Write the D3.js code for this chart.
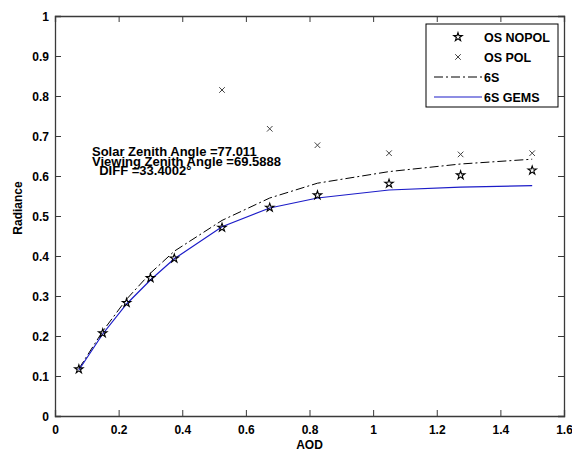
<!DOCTYPE html>
<html>
<head>
<meta charset="utf-8">
<script src="https://cdn.jsdelivr.net/npm/d3@7"></script>
<style>
  body { margin: 0; background: #fff; }
  svg { font-family: "Liberation Sans", Arial, sans-serif; font-weight: bold; }
</style>
</head>
<body>
<svg width="572" height="451"></svg>
<script>
// values
const aod     = [0.075, 0.15, 0.225, 0.3, 0.375, 0.525, 0.675, 0.825, 1.05, 1.275, 1.5];
const osNopol = [0.117, 0.207, 0.283, 0.345, 0.394, 0.471, 0.521, 0.552, 0.581, 0.602, 0.614];
const sixS    = [0.118, 0.212, 0.292, 0.357, 0.412, 0.489, 0.545, 0.582, 0.611, 0.630, 0.642];
const sixSGems = [0.115, 0.205, 0.280, 0.340, 0.393, 0.473, 0.520, 0.545, 0.565, 0.572, 0.576];
const polAod  = [0.525, 0.675, 0.825, 1.05, 1.275, 1.5];
const osPol   = [0.815, 0.718, 0.677, 0.657, 0.654, 0.657];
const xTicks  = [0, 0.2, 0.4, 0.6, 0.8, 1, 1.2, 1.4, 1.6];
const yTicks  = [0, 0.1, 0.2, 0.3, 0.4, 0.5, 0.6, 0.7, 0.8, 0.9, 1];
const notes   = ["Solar Zenith Angle =77.011", "Viewing Zenith Angle =69.5888", "  DIFF =33.4002\u00b0"];

const svg = d3.select("svg"),
      margin = {top: 16, right: 8, bottom: 35, left: 55},
      width = +svg.attr("width") - margin.left - margin.right,
      height = +svg.attr("height") - margin.top - margin.bottom;

const g = svg.append("g")
    .attr("transform", `translate(${margin.left},${margin.top})`);

const x = d3.scaleLinear().domain([0, 1.6]).range([0, width]);
const y = d3.scaleLinear().domain([0, 1]).range([height, 0]);

const fmt = d => d3.format("~g")(d);
const axisColor = "#3a3a3a";

// axes with inward ticks on all four sides
const axBottom = g.append("g").attr("transform", `translate(0,${height})`)
    .call(d3.axisBottom(x).tickValues(xTicks).tickSize(-6).tickPadding(9).tickFormat(fmt));
const axLeft = g.append("g")
    .call(d3.axisLeft(y).tickValues(yTicks).tickSize(-6).tickPadding(6).tickFormat(fmt));
const axTop = g.append("g")
    .call(d3.axisTop(x).tickValues(xTicks).tickSize(-6).tickFormat(""));
const axRight = g.append("g").attr("transform", `translate(${width},0)`)
    .call(d3.axisRight(y).tickValues(yTicks).tickSize(-6).tickFormat(""));

[axBottom, axLeft, axTop, axRight].forEach(a => {
    a.selectAll("path").attr("stroke", axisColor).attr("stroke-width", 1.3);
    a.selectAll("line").attr("stroke", axisColor);
    a.selectAll("text").attr("fill", "#000").style("font-size", "12px")
        .style("font-family", "'Liberation Sans', Arial, sans-serif").style("font-weight", "bold");
});
axLeft.selectAll("text").attr("dy", "0.35em");

// axis labels
svg.append("text")
    .attr("x", margin.left + width / 2)
    .attr("y", 449)
    .attr("text-anchor", "middle")
    .style("font-size", "12px")
    .text("AOD");

svg.append("text")
    .attr("transform", "translate(22,208) rotate(-90)")
    .attr("text-anchor", "middle")
    .style("font-size", "12px")
    .text("Radiance");

// lines
const line = d3.line()
    .x(d => x(d[0]))
    .y(d => y(d[1]));

g.append("path")
    .datum(d3.zip(aod, sixS))
    .attr("fill", "none")
    .attr("stroke", "#000")
    .attr("stroke-width", 1)
    .attr("stroke-dasharray", "9,3,2,3")
    .attr("d", line);

g.append("path")
    .datum(d3.zip(aod, sixSGems))
    .attr("fill", "none")
    .attr("stroke", "#1c1cc8")
    .attr("stroke-width", 1.2)
    .attr("d", line);

// markers
const star = d3.symbol(d3.symbolStar, 22);
const cross = d3.symbol(d3.symbolTimes, 22);

g.selectAll(".star")
    .data(d3.zip(aod, osNopol))
    .enter().append("path")
    .attr("class", "star")
    .attr("transform", d => `translate(${x(d[0])},${y(d[1])})`)
    .attr("d", star)
    .attr("fill", "none")
    .attr("stroke", "#000")
    .attr("stroke-width", 1.1);

g.selectAll(".cross")
    .data(d3.zip(polAod, osPol))
    .enter().append("path")
    .attr("class", "cross")
    .attr("transform", d => `translate(${x(d[0])},${y(d[1])})`)
    .attr("d", cross)
    .attr("fill", "none")
    .attr("stroke", "#444")
    .attr("stroke-width", 1);

// annotation (tightly stacked, as in the original)
const note = svg.append("text")
    .style("font-size", "13px")
    .style("white-space", "pre");
notes.forEach((t, i) => {
    note.append("tspan")
        .attr("x", 92)
        .attr("y", 156 + i * 9.5)
        .text(t);
});

// legend
const legend = svg.append("g").attr("transform", "translate(426,24)");
legend.append("rect")
    .attr("width", 132).attr("height", 83)
    .attr("fill", "#fff").attr("stroke", "#000").attr("stroke-width", 1);

const items = ["OS NOPOL", "OS POL", "6S", "6S GEMS"];
items.forEach((name, i) => {
    const cy = 13 + i * 20;
    if (i === 0) {
        legend.append("path").attr("transform", `translate(32,${cy})`).attr("d", star)
            .attr("fill", "none").attr("stroke", "#000").attr("stroke-width", 1.1);
    } else if (i === 1) {
        legend.append("path").attr("transform", `translate(32,${cy})`).attr("d", cross)
            .attr("fill", "none").attr("stroke", "#444");
    } else {
        legend.append("line")
            .attr("x1", 8).attr("x2", 56).attr("y1", cy).attr("y2", cy)
            .attr("stroke", i === 2 ? "#000" : "#1c1cc8")
            .attr("stroke-width", i === 2 ? 1 : 1.2)
            .attr("stroke-dasharray", i === 2 ? "9,3,2,3" : null);
    }
    legend.append("text")
        .attr("x", 58)
        .attr("y", cy + 4.5)
        .style("font-size", "12.5px")
        .text(name);
});
</script>
</body>
</html>
